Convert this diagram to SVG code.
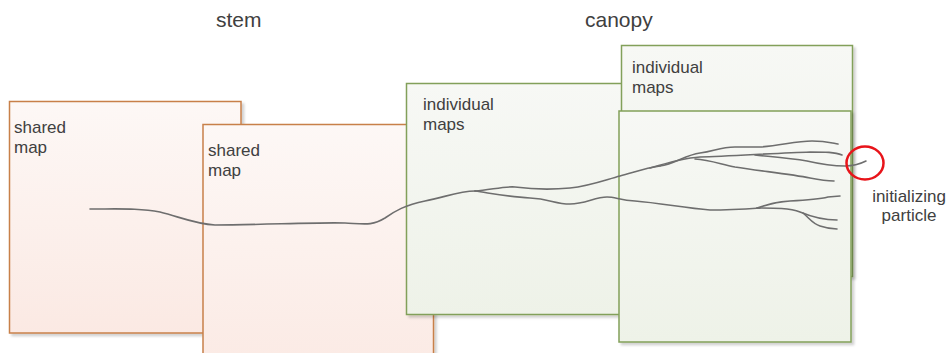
<svg xmlns="http://www.w3.org/2000/svg" width="949" height="353" viewBox="0 0 949 353">
  <defs>
    <linearGradient id="gStem" x1="0" y1="0" x2="0" y2="1">
      <stop offset="0" stop-color="#fdf8f6"/>
      <stop offset="1" stop-color="#fbe9e3"/>
    </linearGradient>
    <linearGradient id="gCanopy" x1="0" y1="0" x2="0" y2="1">
      <stop offset="0" stop-color="#f7f8f5"/>
      <stop offset="1" stop-color="#eef2e8"/>
    </linearGradient>
    <filter id="shadow" x="-5%" y="-5%" width="115%" height="115%">
      <feDropShadow dx="2.5" dy="2.5" stdDeviation="1.2" flood-color="#000" flood-opacity="0.18"/>
    </filter>
  </defs>
  <style>
    .stem { fill: url(#gStem); stroke: #c8804a; stroke-width: 1.5; filter: url(#shadow); }
    .canopy { fill: url(#gCanopy); stroke: #82a05a; stroke-width: 1.5; filter: url(#shadow); }
    .lbl { font-family: "Liberation Sans", Arial, sans-serif; font-size: 17px; fill: #404040; }
    .title { font-family: "Liberation Sans", Arial, sans-serif; font-size: 21px; fill: #404040; }
    .trace { fill: none; stroke: #6e6e6e; stroke-width: 1.6; stroke-linecap: round; }
    .mark { fill: none; stroke: #e8141a; stroke-width: 2.5; }
  </style>
  <rect width="949" height="353" fill="#ffffff"/>

  <text class="title" x="216" y="27">stem</text>
  <text class="title" x="585" y="27">canopy</text>

  <g id="stem-map-1">
    <rect class="stem" x="9.5" y="101.5" width="231.5" height="231.5"/>
    <text class="lbl" x="14" y="133">shared</text>
    <text class="lbl" x="14" y="153">map</text>
  </g>
  <g id="stem-map-2">
    <rect class="stem" x="203" y="124.5" width="230.5" height="260"/>
    <text class="lbl" x="208" y="156">shared</text>
    <text class="lbl" x="208" y="176">map</text>
  </g>
  <g id="canopy-maps-1">
    <rect class="canopy" x="406.5" y="83.5" width="235" height="231"/>
    <text class="lbl" x="423" y="110">individual</text>
    <text class="lbl" x="423" y="130">maps</text>
  </g>
  <g id="canopy-maps-2">
    <rect class="canopy" x="621.5" y="45.5" width="231" height="231"/>
    <text class="lbl" x="632" y="73">individual</text>
    <text class="lbl" x="632" y="93">maps</text>
  </g>
  <g id="canopy-maps-3">
    <rect class="canopy" x="619" y="111" width="232" height="231"/>
  </g>

  <g id="connectors">
    <!-- trunk -->
    <path class="trace" d="M90,209 C120,209 140,208 160,212 C180,217 195,224 215,225 C260,225 320,222 345,223 C365,224 372,226 385,218 C395,211 405,205 425,201 C445,197 460,191 475,191"/>
    <!-- upper branch -->
    <path class="trace" d="M475,191 C490,190 505,186 515,187 C530,189 550,190 570,188 C590,186 605,180 620,176 C635,172 645,168 660,166"/>
    <path class="trace" d="M660,166 C675,164 685,155 700,153 C715,151 720,147 735,147 L760,147 C780,146 795,141 812,141 C825,141 832,143 838,144"/>
    <path class="trace" d="M650,168 C670,162 685,158 700,157 C730,156 780,153 810,152 C825,152 835,152 842,155"/>
    <path class="trace" d="M755,155 C775,157 790,158 807,161 C820,164 830,166 845,166 C855,166 860,164 866,161"/>
    <path class="trace" d="M695,159 C710,160 720,164 735,167 C760,171 790,174 810,178 C820,180 828,181 834,181"/>
    <!-- lower branch -->
    <path class="trace" d="M475,191 C495,194 510,197 530,198 C550,199 555,204 570,204 C585,204 595,197 607,197 C615,197 620,200 635,201 C660,203 685,208 710,210 C730,210 745,209 760,208"/>
    <path class="trace" d="M757,208 C770,204 775,202 790,201 C810,200 820,199 828,197 L840,196"/>
    <path class="trace" d="M757,208 C775,208 790,208 800,212 C812,217 822,220 837,220"/>
    <path class="trace" d="M803,213 C810,219 813,224 820,226 C826,228 830,229 837,229"/>
  </g>

  <g id="initializing-particle">
    <ellipse class="mark" cx="865" cy="163" rx="18.5" ry="16.5"/>
    <text class="lbl" x="909" y="202" text-anchor="middle">initializing</text>
    <text class="lbl" x="909" y="221" text-anchor="middle">particle</text>
  </g>
</svg>
